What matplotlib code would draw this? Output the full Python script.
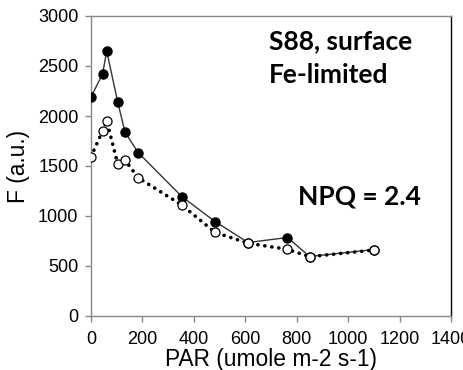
import matplotlib
matplotlib.use("Agg")
import matplotlib.pyplot as plt

# Fluorescence vs light: dark-adapted (filled) and light-adapted (open)
par = [0, 45, 61, 104, 132, 183, 353, 482, 611, 764, 850, 1101]
f_filled = [2190, 2420, 2650, 2140, 1840, 1635, 1195, 945, 735, 785, 595, 665]
f_open = [1593, 1850, 1953, 1520, 1560, 1383, 1110, 837, 727, 667, 593, 660]

xticks = [0, 200, 400, 600, 800, 1000, 1200, 1400]
yticks = [0, 500, 1000, 1500, 2000, 2500, 3000]

plt.rcParams['font.family'] = ['Liberation Sans', 'DejaVu Sans']

fig = plt.figure(figsize=(4.64, 3.70), dpi=100)
ax = fig.add_axes([91 / 464, 54 / 370, 360 / 464, 300 / 370])

ax.plot(par, f_filled, color='#333333', lw=1.0, marker='o', ms=6.5,
        mfc='black', mec='black', zorder=3)
ax.plot(par, f_open, color='black', lw=2.6, linestyle=(0, (0.05, 1.9)),
        dash_capstyle='round', marker='o', ms=6.5, mfc='white',
        mec='black', mew=0.9, zorder=4)

ax.set_xlim(0, 1400)
ax.set_ylim(0, 3000)
ax.set_xticks(xticks)
ax.set_yticks(yticks)
ax.tick_params(axis='both', labelsize=13, direction='out', length=4,
               color='#888888', width=1)
ax.tick_params(axis='x', pad=7)
ax.tick_params(axis='y', pad=5)
for side in ['left', 'bottom', 'top']:
    ax.spines[side].set_color('#888888')
ax.spines['right'].set_color('black')
for s in ax.spines.values():
    s.set_linewidth(1)

ax.set_xlabel('PAR (umole m-2 s-1)', fontsize=16.4, labelpad=0)
ax.set_ylabel('F (a.u.)', fontsize=16.4, labelpad=6)

bold = dict(family=['Lato', 'DejaVu Sans'], fontweight='bold', fontsize=19)
ax.text(692, 2670, 'S88, surface', **bold)
ax.text(692, 2330, 'Fe-limited', **bold)
ax.text(805, 1110, 'NPQ = 2.4', **bold)

fig.savefig('out.png', dpi=100)
